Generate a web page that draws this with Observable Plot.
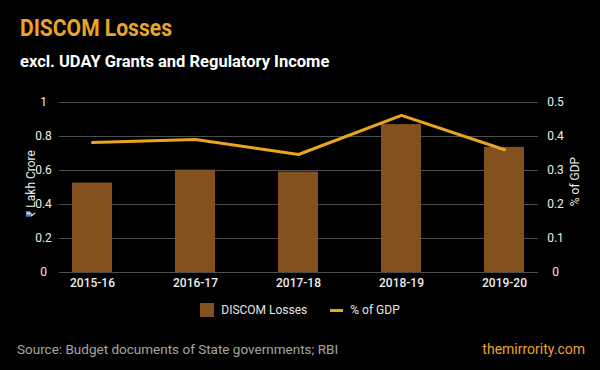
<!DOCTYPE html>
<html><head><meta charset="utf-8">
<script src="https://cdn.jsdelivr.net/npm/d3@7"></script>
<script src="https://cdn.jsdelivr.net/npm/@observablehq/plot@0.6"></script>
<style>
html,body{margin:0;padding:0;background:#000;}
body{width:600px;height:370px;overflow:hidden;position:relative;font-family:Roboto,sans-serif;}
#title{position:absolute;left:20px;top:15.5px;font-size:24.5px;line-height:24.5px;font-weight:700;color:#E8A526;transform:scaleX(0.86);transform-origin:left top;white-space:nowrap;}
#subtitle{position:absolute;left:20px;top:54.4px;font-size:16.5px;line-height:16.5px;font-weight:700;color:#fff;white-space:nowrap;}
#chart{position:absolute;left:0;top:90px;}
#legend{position:absolute;left:0;width:600px;top:302px;height:16px;display:flex;justify-content:center;align-items:center;font-size:12px;color:#e6e6e6;}
.sw{display:inline-block;}
#source{position:absolute;left:17px;top:342.4px;font-size:13.5px;line-height:14px;color:#a6a6a6;white-space:nowrap;}
#brand{position:absolute;right:15px;top:342.4px;font-size:14px;line-height:14px;color:#E8A526;white-space:nowrap;}
</style></head><body>
<div id="title">DISCOM Losses</div>
<div id="subtitle">excl. UDAY Grants and Regulatory Income</div>
<div id="chart"></div>
<div id="legend">
  <span class="sw" style="width:14px;height:14px;background:#82511F;margin-right:7px;"></span><span>DISCOM Losses</span>
  <span class="sw" style="width:13px;height:3px;background:#EBA61F;margin-left:23px;margin-right:7px;"></span><span>% of GDP</span>
</div>
<div id="source">Source: Budget documents of State governments; RBI</div>
<div id="brand">themirrority.com</div>
<script>
const years = ["2015-16","2016-17","2017-18","2018-19","2019-20"];
const losses = [0.526,0.602,0.591,0.870,0.736];
const gdpShare = [0.382,0.391,0.347,0.462,0.361];
const leftTicks = [0,0.2,0.4,0.6,0.8,1];
const rightTicks = [0,0.1,0.2,0.3,0.4,0.5];
const leftTitle = "₹ Lakh Crore";
const rightTitle = "% of GDP";
const rightMax = 0.5, leftMax = 1;
const k = leftMax / rightMax;
const data = years.map((y,i)=>({year:y, loss:losses[i], gdp:gdpShare[i]}));
const fmt = d3.format("~g");

const chart = Plot.plot({
  width: 600,
  height: 210,
  marginLeft: 41,
  marginRight: 44,
  marginTop: 12,
  marginBottom: 28,
  style: {background: "#000", color: "#eee", fontFamily: "Roboto, sans-serif", fontSize: "12px", overflow: "visible"},
  x: {domain: years, paddingInner: 0.61, paddingOuter: 0.305, label: null},
  y: {domain: [0, leftMax], label: null},
  marks: [
    Plot.ruleY(leftTicks, {stroke: "#4d4d4d", strokeWidth: 1, insetLeft: 18, insetRight: 18}),
    Plot.barY(data, {x: "year", y: "loss", fill: "#82511F"}),
    Plot.line(data, {x: "year", y: d => d.gdp * k, stroke: "#EBA61F", strokeWidth: 3}),
    Plot.axisX({tickSize: 0, tickPadding: 6, fontSize: 12, fontWeight: 500, fill: "#eee", label: null}),
    Plot.axisY(leftTicks, {anchor: "left", tickSize: 0, tickPadding: -2, textAnchor: "middle", tickFormat: fmt, fontSize: 12, fill: "#eee", label: null}),
    Plot.axisY(rightTicks.map(t => t * k), {anchor: "right", tickSize: 0, tickPadding: -1, textAnchor: "middle", tickFormat: d => fmt(d / k), fontSize: 12, fill: "#eee", label: null}),
    Plot.text([leftTitle], {frameAnchor: "left", dx: -10, dy: -4, rotate: -90, textAnchor: "middle", lineAnchor: "middle", fontSize: 12, fill: "#eee"}),
    Plot.text([rightTitle], {frameAnchor: "right", dx: 19, dy: -6, rotate: -90, textAnchor: "middle", lineAnchor: "middle", fontSize: 12, fill: "#eee"})
  ]
});
document.getElementById("chart").appendChild(chart);
</script>
</body></html>
